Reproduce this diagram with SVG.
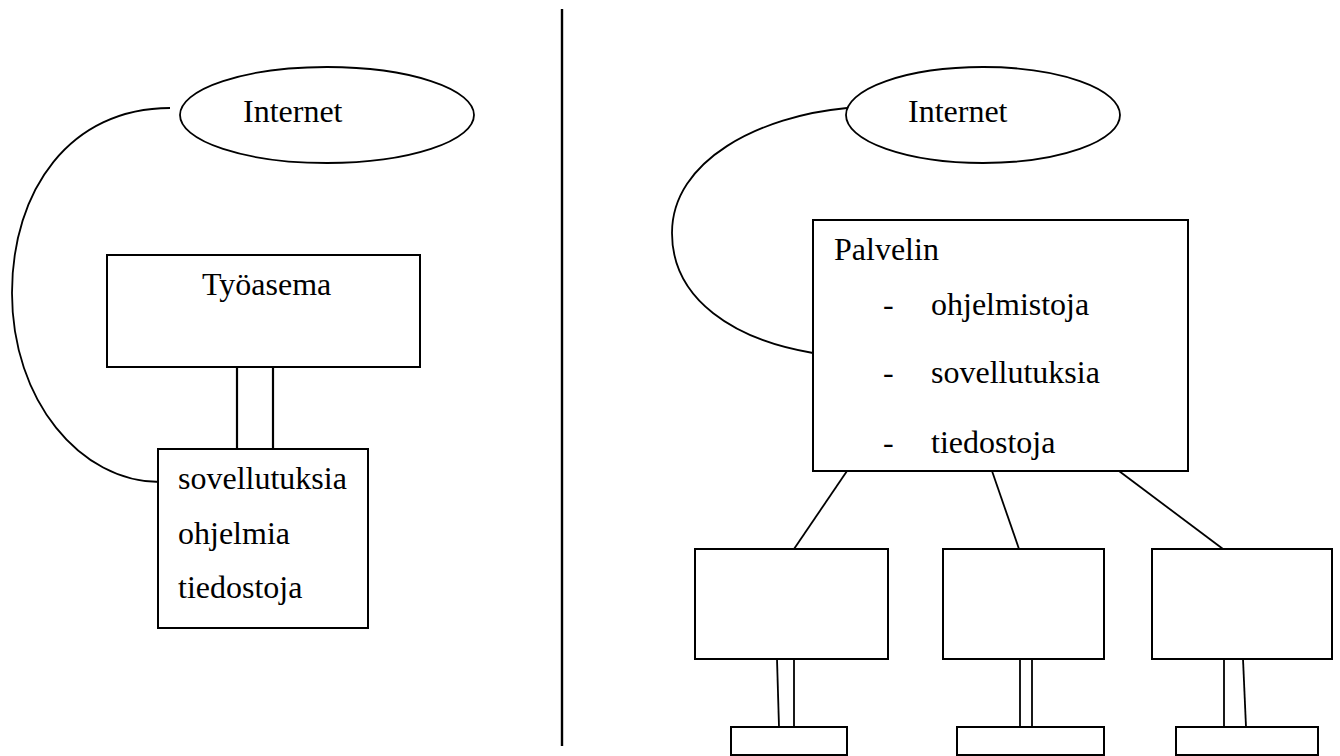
<svg xmlns="http://www.w3.org/2000/svg" width="1340" height="756" viewBox="0 0 1340 756">
  <style>
    .box { fill: #fff; stroke: #000; stroke-width: 2; }
    .ell { fill: #fff; stroke: #000; stroke-width: 1.8; }
    .wire { fill: none; stroke: #000; stroke-width: 1.8; }
    .post { fill: none; stroke: #000; stroke-width: 2.2; }
    .lbl { font-family: "Liberation Serif", "Times New Roman", serif; font-size: 32px; fill: #000; }
  </style>
  <rect width="1340" height="756" fill="#fff"/>

  <!-- divider between the two setups -->
  <line x1="562" y1="9" x2="562" y2="746" stroke="#000" stroke-width="2.4"/>

  <!-- connectors -->
  <g id="connectors">
    <!-- left: internet to local storage -->
    <path class="wire" d="M170,108 C 70,108 12,190 12,293 C 12,400 80,482 160,482"/>
    <!-- left: workstation to storage -->
    <line class="post" x1="237" y1="367" x2="237" y2="449"/>
    <line class="post" x1="273" y1="367" x2="273" y2="449"/>
    <!-- right: internet to server -->
    <path class="wire" d="M847,108 C 760,116 672,160 672,233 C 672,300 735,340 813,353"/>
    <!-- right: server to clients -->
    <line class="wire" x1="847" y1="471" x2="794" y2="549"/>
    <line class="wire" x1="992" y1="471" x2="1019" y2="549"/>
    <line class="wire" x1="1119" y1="471" x2="1223" y2="549"/>
    <!-- client stands -->
    <line class="wire" x1="777" y1="659" x2="779" y2="727"/>
    <line class="wire" x1="794" y1="659" x2="794" y2="727"/>
    <line class="wire" x1="1020" y1="659" x2="1020" y2="727"/>
    <line class="wire" x1="1032" y1="659" x2="1032" y2="727"/>
    <line class="wire" x1="1224" y1="659" x2="1224" y2="727"/>
    <line class="wire" x1="1243" y1="659" x2="1246" y2="727"/>
  </g>

  <!-- left side -->
  <g id="internet-left">
    <ellipse class="ell" cx="327" cy="115" rx="147" ry="48"/>
    <text class="lbl" x="243" y="122">Internet</text>
  </g>
  <g id="workstation">
    <rect class="box" x="107" y="255" width="313" height="112"/>
    <text class="lbl" x="202" y="295">Työasema</text>
  </g>
  <g id="local-storage">
    <rect class="box" x="158" y="449" width="210" height="179"/>
    <text class="lbl" x="178" y="489">sovellutuksia</text>
    <text class="lbl" x="178" y="544">ohjelmia</text>
    <text class="lbl" x="178" y="598">tiedostoja</text>
  </g>

  <!-- right side -->
  <g id="internet-right">
    <ellipse class="ell" cx="983" cy="115" rx="137" ry="48"/>
    <text class="lbl" x="908" y="122">Internet</text>
  </g>
  <g id="server">
    <rect class="box" x="813" y="220" width="375" height="251"/>
    <text class="lbl" x="834" y="260">Palvelin</text>
    <text class="lbl" x="883" y="315">-</text>
    <text class="lbl" x="931" y="315">ohjelmistoja</text>
    <text class="lbl" x="883" y="383">-</text>
    <text class="lbl" x="931" y="383">sovellutuksia</text>
    <text class="lbl" x="883" y="453">-</text>
    <text class="lbl" x="931" y="453">tiedostoja</text>
  </g>
  <g id="client-1">
    <rect class="box" x="695" y="549" width="193" height="110"/>
    <rect class="box" x="731" y="727" width="116" height="28"/>
  </g>
  <g id="client-2">
    <rect class="box" x="943" y="549" width="161" height="110"/>
    <rect class="box" x="957" y="727" width="147" height="28"/>
  </g>
  <g id="client-3">
    <rect class="box" x="1152" y="549" width="180" height="110"/>
    <rect class="box" x="1176" y="727" width="142" height="28"/>
  </g>
</svg>
